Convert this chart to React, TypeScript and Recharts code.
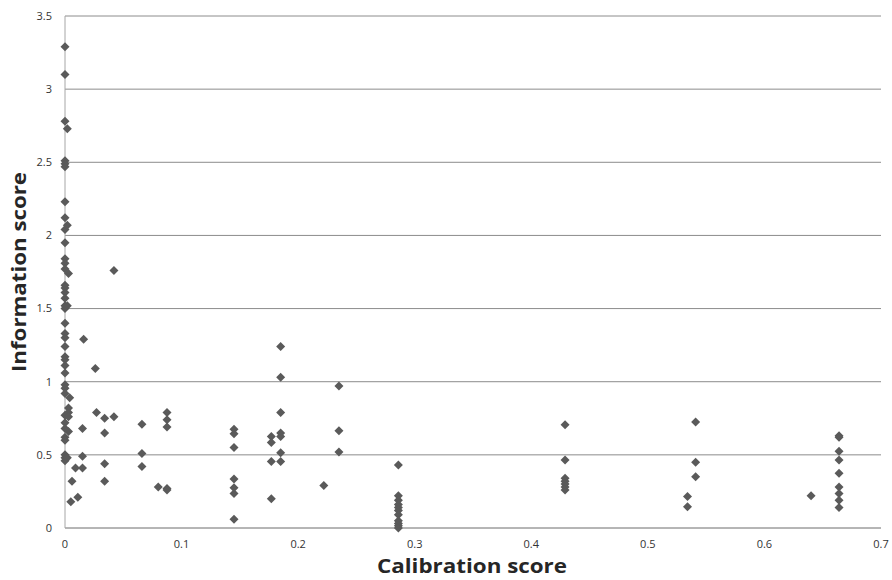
import { ScatterChart, Scatter, XAxis, YAxis, CartesianGrid } from "recharts";

// calibration score is exactly 0 for this whole column
const zeroColumnInfo = [
  3.29, 3.1, 2.78, 2.51, 2.49, 2.47, 2.23, 2.12, 2.04, 1.95, 1.84, 1.81, 1.77,
  1.66, 1.64, 1.61, 1.57, 1.52, 1.5, 1.4, 1.33, 1.3, 1.24, 1.17, 1.15, 1.11,
  1.06, 0.98, 0.955, 0.92, 0.77, 0.72, 0.68, 0.62, 0.6, 0.5, 0.48, 0.46,
];

// points just off the axis
const nearZeroCal = [0.002, 0.002, 0.003, 0.002, 0.004, 0.003, 0.003, 0.003, 0.003, 0.002];
const nearZeroInfo = [2.73, 2.07, 1.74, 1.52, 0.89, 0.82, 0.79, 0.76, 0.66, 0.48];

const lowCal = [
  0.005, 0.006, 0.009, 0.011, 0.015, 0.015, 0.015, 0.016, 0.026, 0.027, 0.034,
  0.034, 0.034, 0.034, 0.042, 0.042, 0.066, 0.066, 0.066, 0.08, 0.0875, 0.0875,
  0.0875, 0.0875, 0.0875,
];
const lowInfo = [
  0.18, 0.32, 0.41, 0.21, 0.68, 0.49, 0.41, 1.29, 1.09, 0.79, 0.75, 0.65, 0.44,
  0.32, 0.76, 1.76, 0.71, 0.51, 0.42, 0.28, 0.79, 0.74, 0.69, 0.27, 0.26,
];

const midCal = [
  0.145, 0.145, 0.145, 0.145, 0.145, 0.145, 0.145, 0.177, 0.177, 0.177, 0.177,
  0.185, 0.185, 0.185, 0.185, 0.185, 0.185, 0.185, 0.222, 0.235, 0.235, 0.235,
];
const midInfo = [
  0.675, 0.645, 0.55, 0.335, 0.275, 0.235, 0.06, 0.625, 0.585, 0.455, 0.2,
  1.24, 1.03, 0.79, 0.65, 0.625, 0.515, 0.455, 0.29, 0.97, 0.665, 0.52,
];

const col286Info = [0.43, 0.22, 0.19, 0.16, 0.14, 0.12, 0.09, 0.05, 0.03, 0.015, 0.0];
const col429Info = [0.705, 0.465, 0.34, 0.32, 0.3, 0.28, 0.26];

const highCal = [0.534, 0.534, 0.541, 0.541, 0.541, 0.64];
const highInfo = [0.215, 0.145, 0.725, 0.45, 0.35, 0.22];

const col664Info = [0.63, 0.62, 0.525, 0.465, 0.375, 0.28, 0.235, 0.19, 0.14];

const xTicks = [0, 0.1, 0.2, 0.3, 0.4, 0.5, 0.6, 0.7];
const yTicks = [0, 0.5, 1, 1.5, 2, 2.5, 3, 3.5];

const data = [
  ...zeroColumnInfo.map((y) => ({ x: 0, y })),
  ...nearZeroCal.map((x, i) => ({ x, y: nearZeroInfo[i] })),
  ...lowCal.map((x, i) => ({ x, y: lowInfo[i] })),
  ...midCal.map((x, i) => ({ x, y: midInfo[i] })),
  ...col286Info.map((y) => ({ x: 0.286, y })),
  ...col429Info.map((y) => ({ x: 0.429, y })),
  ...highCal.map((x, i) => ({ x, y: highInfo[i] })),
  ...col664Info.map((y) => ({ x: 0.664, y })),
];

const Diamond = (props: any) => {
  const { cx, cy } = props;
  const r = 4.5;
  return (
    <polygon
      points={`${cx},${cy - r} ${cx + r},${cy} ${cx},${cy + r} ${cx - r},${cy}`}
      fill="#5a5a5a"
    />
  );
};

const tickStyle = { fontSize: 11, fill: "#333333", fontFamily: "Open Sans" };

const App = () => {
  return (
    <div style={{ position: "absolute", left: 0, top: 0 }}>
      <ScatterChart
        width={892}
        height={580}
        margin={{ top: 16, right: 11, left: 0, bottom: 0 }}
      >
        <CartesianGrid horizontal vertical={false} stroke="#8c8c8c" />
        <XAxis
          type="number"
          dataKey="x"
          domain={[0, 0.7]}
          ticks={xTicks}
          height={52}
          tickLine={false}
          tickMargin={6}
          axisLine={{ stroke: "#a6a6a6" }}
          tick={tickStyle}
          label={{
            content: () => (
              <text
                x={472}
                y={573}
                textAnchor="middle"
                fontFamily="Open Sans"
                fontWeight="bold"
                fontSize={19}
                textLength={190}
                lengthAdjust="spacingAndGlyphs"
                fill="#262626"
              >
                Calibration score
              </text>
            ),
          }}
        />
        <YAxis
          type="number"
          dataKey="y"
          domain={[0, 3.5]}
          ticks={yTicks}
          width={65}
          tickLine={false}
          tickMargin={7}
          axisLine={{ stroke: "#a6a6a6" }}
          tick={tickStyle}
          label={{
            content: () => (
              <text
                x={26}
                y={272}
                transform="rotate(-90 26 272)"
                textAnchor="middle"
                fontFamily="Open Sans"
                fontWeight="bold"
                fontSize={19}
                textLength={200}
                lengthAdjust="spacingAndGlyphs"
                fill="#262626"
              >
                Information score
              </text>
            ),
          }}
        />
        <Scatter data={data} shape={<Diamond />} isAnimationActive={false} />
      </ScatterChart>
    </div>
  );
};

export default App;
